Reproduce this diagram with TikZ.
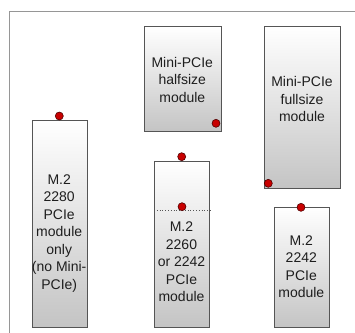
\documentclass[tikz,border=0pt]{standalone}
\usepackage{fontspec}
\setmainfont{Liberation Sans}
\definecolor{boxline}{RGB}{85,85,85}
\definecolor{boxbot}{RGB}{196,196,196}
\definecolor{dotred}{RGB}{200,0,0}
\definecolor{framec}{RGB}{150,150,150}
\definecolor{txt}{RGB}{30,30,30}
\begin{document}
\begin{tikzpicture}[x=1pt,y=-1pt,
  modbox/.style={draw=boxline,line width=1.2pt,top color=white,bottom color=boxbot,
    rectangle,inner sep=0pt,anchor=north west},
  pin/.style={circle,fill=dotred,draw=black!60!dotred,line width=0.6pt,minimum size=8pt,inner sep=0pt},
  lbl/.style={align=center,font=\fontsize{14}{17.5}\selectfont,text=txt,inner sep=0pt}]
\useasboundingbox (0,0) rectangle (355,332);
\draw[framec,line width=1pt] (9,340) -- (9,11) -- (365,11);
% boxes
\node[modbox,minimum width=55pt,minimum height=207pt] (b1) at (31.7,120) {};
\node[modbox,minimum width=76.7pt,minimum height=105pt] (b2) at (144,26) {};
\node[modbox,minimum width=76pt,minimum height=161.7pt] (b3) at (264,26) {};
\node[modbox,minimum width=55pt,minimum height=166pt] (b4) at (154,161) {};
\node[modbox,minimum width=54.7pt,minimum height=120.3pt] (b5) at (274,206.7) {};
% dotted divider
\coordinate (d1) at (b4.west |- 0,210);
\coordinate (d2) at (b4.east |- 0,210);
\draw[boxline,line width=0.8pt,dotted] (d1) -- (d2);
% labels
\node[lbl] (t1) at (59.2,233.5) {M.2\\2280\\PCIe\\module\\only\\(no Mini-\\PCIe)};
\node[lbl] (t2) at (182.3,79.5) {Mini-PCIe\\halfsize\\module};
\node[lbl] (t3) at (302,99) {Mini-PCIe\\fullsize\\module};
\node[lbl] (t4) at (181.5,262) {M.2\\2260\\or 2242\\PCIe\\module};
\node[lbl] (t5) at (301.3,266.5) {M.2\\2242\\PCIe\\module};
% pins
\node[pin] (p1) at (59.3,116) {};
\node[pin] (p2) at (216,123.3) {};
\node[pin] (p3) at (268.3,183.3) {};
\node[pin] (p4) at (181.7,156.7) {};
\node[pin] (p5) at (182,206.7) {};
\node[pin] (p6) at (301,207.3) {};
\end{tikzpicture}
\end{document}
